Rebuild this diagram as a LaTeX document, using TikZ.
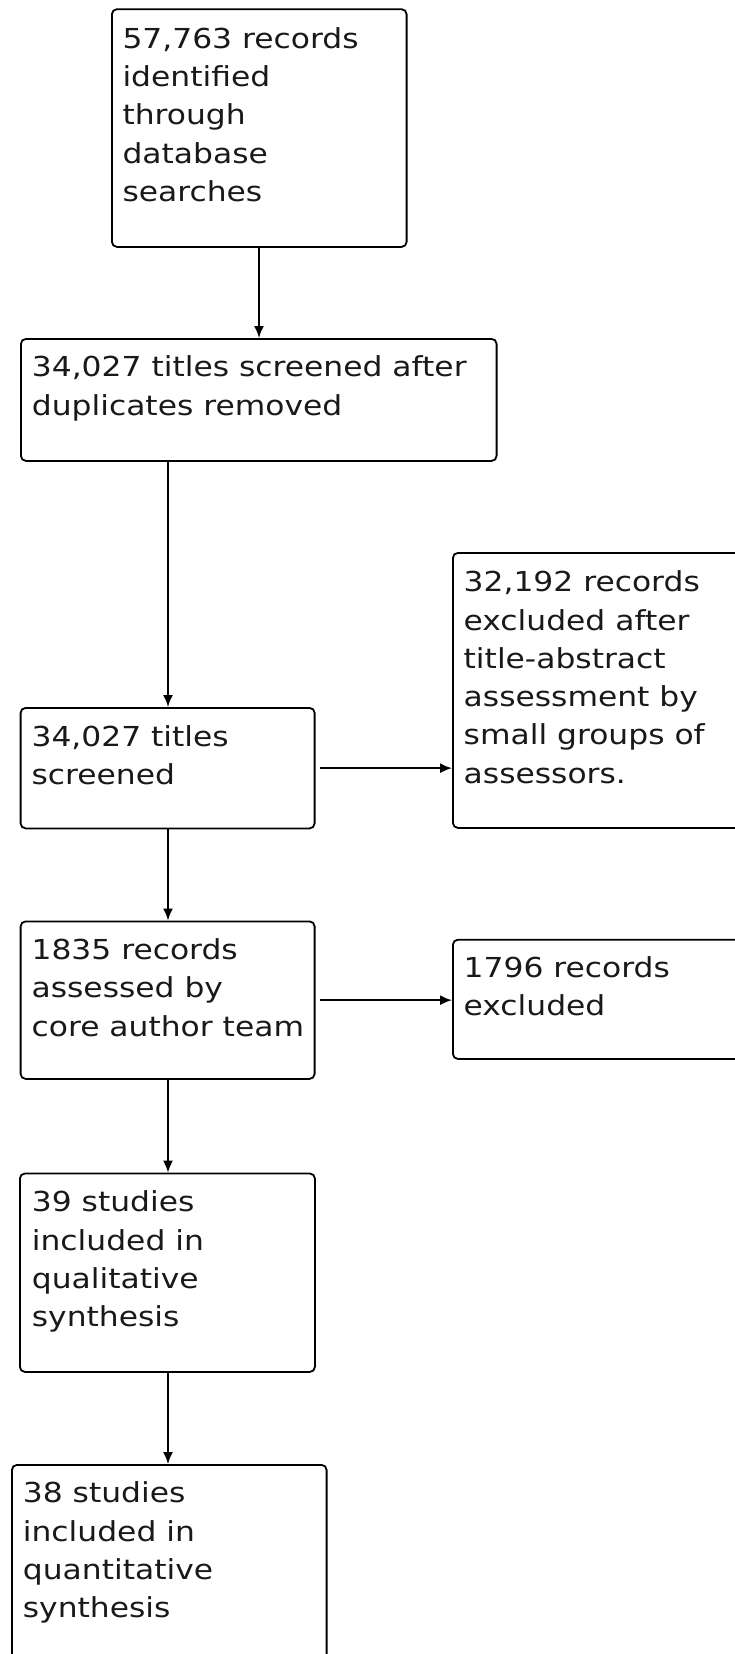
\documentclass[tikz,border=0pt]{standalone}
\usepackage{fontspec}
\setmainfont{DejaVu Sans}[FakeStretch=1.14]
\usetikzlibrary{arrows.meta}
\tikzset{
  box/.style={draw=black, line width=1.8pt, rounded corners=5pt, inner sep=0pt, anchor=north west},
  txt/.style={inner sep=0pt, anchor=base west, text=black!90},
  conn/.style={draw=black, line width=1.8pt, -{Latex[length=12pt,width=10pt]}}
}
\newcommand{\tb}[1]{\parbox[t]{520pt}{\fontsize{27.5}{38.3}\selectfont\raggedright #1}}
\begin{document}
\begin{tikzpicture}[x=1pt,y=-1pt]
\useasboundingbox (0,0) rectangle (734,1654);
% boxes
\node[box, minimum width=294.7pt, minimum height=237.7pt] (b1) at (111,8.3) {};
\node[box, minimum width=475.7pt, minimum height=122pt] (b2) at (20,338) {};
\node[box, minimum width=294pt, minimum height=120.5pt] (b3) at (19.7,707) {};
\node[box, minimum width=308pt, minimum height=275pt] (r1) at (452,552) {};
\node[box, minimum width=294pt, minimum height=157.5pt] (b4) at (19.7,920.5) {};
\node[box, minimum width=308pt, minimum height=119.2pt] (r2) at (452,938.8) {};
\node[box, minimum width=295pt, minimum height=198.4pt] (b5) at (19,1172.6) {};
\node[box, minimum width=314.7pt, minimum height=220pt] (b6) at (11,1464) {};
% texts
\node[txt] (t1) at (122.3,48.3) {\tb{57,763 records\\identified\\through\\database\\searches}};
\node[txt] (t2) at (31.7,376.7) {\tb{34,027 titles screened after\\duplicates removed}};
\node[txt] (t3) at (31.4,746.6) {\tb{34,027 titles\\screened}};
\node[txt] (t4) at (463.5,591.7) {\tb{32,192 records\\excluded after\\title-abstract\\assessment by\\small groups of\\assessors.}};
\node[txt] (t5) at (31.4,959.4) {\tb{1835 records\\assessed by\\core author team}};
\node[txt] (t6) at (463.5,977) {\tb{1796 records\\excluded}};
\node[txt] (t7) at (31.7,1211.8) {\tb{39 studies\\included in\\qualitative\\synthesis}};
\node[txt] (t8) at (22.7,1502.8) {\tb{38 studies\\included in\\quantitative\\synthesis}};
% connectors
\coordinate (c1) at (259,246);
\draw[conn] (c1) -- (c1 |- b2.north);
\coordinate (c2) at (168,460);
\draw[conn] (c2) -- (c2 |- b3.north);
\draw[conn] ([xshift=4pt]b3.east) -- (b3.east -| r1.west);
\coordinate (c3) at (168,827.5);
\draw[conn] (c3) -- (c3 |- b4.north);
\draw[conn] ([xshift=4pt]b4.east) -- (b4.east -| r2.west);
\coordinate (c4) at (168,1078);
\draw[conn] (c4) -- (c4 |- b5.north);
\coordinate (c5) at (168,1371);
\draw[conn] (c5) -- (c5 |- b6.north);
\end{tikzpicture}
\end{document}
